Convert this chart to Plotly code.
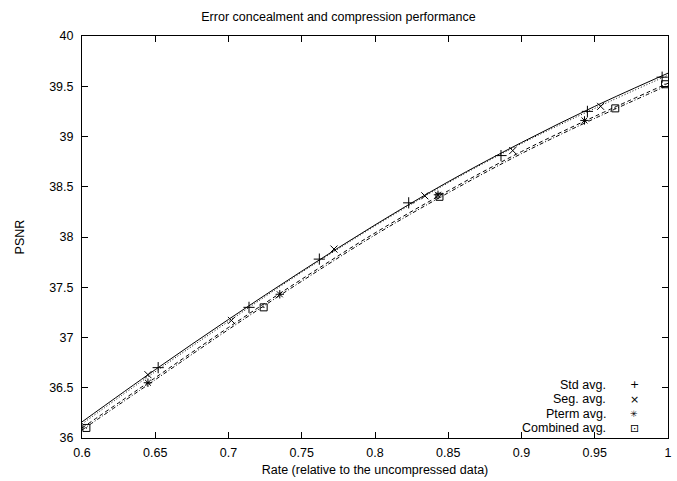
import plotly.graph_objects as go

# ---- data ----
line_x = [0.60, 0.65, 0.70, 0.75, 0.80, 0.85, 0.90, 0.95, 1.00]
std_line = [36.16, 36.68, 37.18, 37.66, 38.12, 38.55, 38.94, 39.30, 39.63]
seg_line = [36.14, 36.66, 37.16, 37.65, 38.11, 38.54, 38.93, 39.28, 39.61]
pterm_line = [36.10, 36.60, 37.10, 37.58, 38.04, 38.46, 38.85, 39.20, 39.53]
comb_line = [36.08, 36.58, 37.08, 37.56, 38.02, 38.44, 38.83, 39.18, 39.51]

std_x = [0.652, 0.714, 0.762, 0.823, 0.886, 0.945, 0.996]
std_y = [36.70, 37.30, 37.78, 38.34, 38.81, 39.25, 39.59]
seg_x = [0.645, 0.702, 0.772, 0.834, 0.894, 0.954]
seg_y = [36.63, 37.17, 37.88, 38.41, 38.86, 39.30]
pterm_x = [0.645, 0.735, 0.843, 0.943]
pterm_y = [36.55, 37.43, 38.42, 39.16]
comb_x = [0.603, 0.724, 0.844, 0.964, 0.998]
comb_y = [36.10, 37.30, 38.40, 39.28, 39.52]

names = ["Std avg.", "Seg. avg.", "Pterm avg.", "Combined avg."]
legend_glyphs = ["+", "×", "✳", "⊡"]
x_ticks = [0.6, 0.65, 0.7, 0.75, 0.8, 0.85, 0.9, 0.95, 1.0]
x_tick_text = ["0.6", "0.65", "0.7", "0.75", "0.8", "0.85", "0.9", "0.95", "1"]
y_ticks = [36, 36.5, 37, 37.5, 38, 38.5, 39, 39.5, 40]
y_tick_text = ["36", "36.5", "37", "37.5", "38", "38.5", "39", "39.5", "40"]

FONT = "Liberation Sans, Arial, Helvetica, sans-serif"
FS = 12.5
fig = go.Figure()

lines = [std_line, seg_line, pterm_line, comb_line]
dashes = ["solid", "1px,2px", "4px,3px", "4px,2px,1px,2px"]
for ly, d in zip(lines, dashes):
    fig.add_trace(go.Scatter(x=line_x, y=ly, mode="lines",
                             line=dict(color="black", width=1, dash=d, shape="spline"),
                             showlegend=False, hoverinfo="skip"))

pts = [(std_x, std_y, "cross-thin-open", 8), (seg_x, seg_y, "x-thin-open", 7),
       (pterm_x, pterm_y, "asterisk-open", 7), (comb_x, comb_y, "square-open-dot", 7)]
for (px, py, sym, sz), nm in zip(pts, names):
    fig.add_trace(go.Scatter(x=px, y=py, mode="markers", name=nm,
                             marker=dict(symbol=sym, size=sz, color="black",
                                         line=dict(color="black", width=1)),
                             showlegend=False))

# gnuplot-style key: right-aligned text with the symbol to its right
key_rows = [0.132, 0.096, 0.060, 0.024]
for nm, g, ky in zip(names, legend_glyphs, key_rows):
    fig.add_annotation(x=0.898, y=ky, xref="paper", yref="paper", text=nm, showarrow=False,
                       xanchor="right", yanchor="middle", font=dict(family=FONT, size=FS, color="black"))
    fig.add_annotation(x=0.942, y=ky, xref="paper", yref="paper", text=g, showarrow=False,
                       xanchor="center", yanchor="middle",
                       font=dict(family="DejaVu Sans", size=11 if g != "✳" else 9, color="black"))

axis_common = dict(showline=True, linecolor="black", linewidth=1, mirror="allticks", ticks="inside",
                   ticklen=6, tickcolor="black", tickwidth=1, showgrid=False, zeroline=False,
                   tickfont=dict(family=FONT, size=FS, color="black"))

fig.update_layout(
    width=677, height=481,
    margin=dict(l=82, r=5, t=36, b=43),
    paper_bgcolor="white", plot_bgcolor="white",
    font=dict(family=FONT, size=FS, color="black"),
    title=dict(text="Error concealment and compression performance", x=0.5, xanchor="center",
               y=1 - 17 / 481, yanchor="middle", font=dict(family=FONT, size=FS, color="black")),
    xaxis=dict(range=[0.6, 1.0], tickvals=x_ticks, ticktext=x_tick_text, ticklabelstandoff=3,
               title=dict(text="Rate (relative to the uncompressed data)", standoff=6, font=dict(size=FS)),
               **axis_common),
    yaxis=dict(range=[36, 40], tickvals=y_ticks, ticktext=y_tick_text, ticklabelstandoff=5,
               title=dict(text="PSNR", standoff=21, font=dict(size=FS)), **axis_common),
    showlegend=False,
)

fig.write_html("out.html", config={"displayModeBar": False})

# remove the browser's default page margin so the figure sits at the window's corner
with open("out.html", "r", encoding="utf-8") as f:
    html = f.read()
html = html.replace("<head>", "<head><style>html,body{margin:0;padding:0;overflow:hidden;}</style>", 1)
with open("out.html", "w", encoding="utf-8") as f:
    f.write(html)
